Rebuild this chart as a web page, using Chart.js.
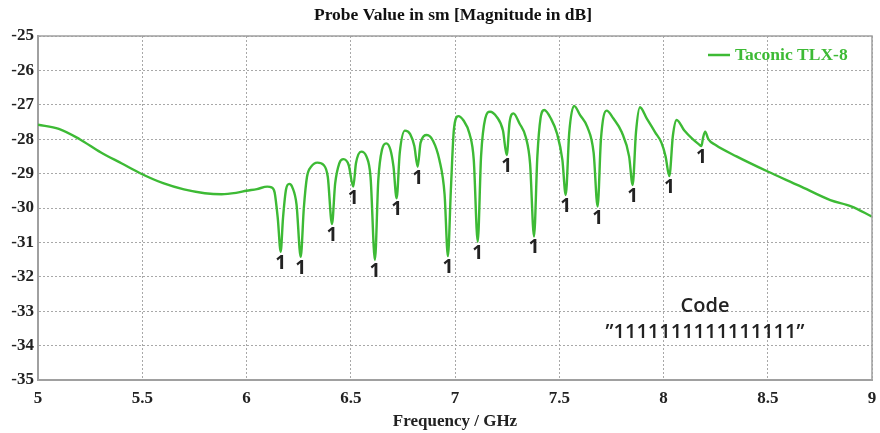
<!DOCTYPE html>
<html>
<head>
<meta charset="utf-8">
<script src="https://cdn.jsdelivr.net/npm/chart.js@4"></script>
<style>
  html, body { margin: 0; padding: 0; background: #fff; }
  #wrap { width: 880px; height: 433px; position: relative; }
</style>
</head>
<body>
<div id="wrap"><canvas id="probeChart"></canvas></div>
<script>
// frequency in GHz and probe magnitude in dB
const freqGHz = [
  5.00, 5.10, 5.20, 5.30, 5.40, 5.50, 5.60, 5.70, 5.80, 5.88, 5.95, 6.00, 6.05, 6.10,
  6.12, 6.135, 6.15, 6.164, 6.175, 6.19, 6.205, 6.22, 6.24, 6.26, 6.275, 6.29,
  6.31, 6.34, 6.37, 6.39, 6.41, 6.425, 6.445, 6.465, 6.49, 6.512, 6.525, 6.55,
  6.575, 6.595, 6.616, 6.632, 6.65, 6.67, 6.69, 6.705, 6.72, 6.735, 6.76, 6.785,
  6.805, 6.821, 6.835, 6.865, 6.895, 6.925, 6.95, 6.966, 6.98, 6.995, 7.016, 7.04,
  7.07, 7.09, 7.109, 7.125, 7.145, 7.168, 7.20, 7.23, 7.248, 7.262, 7.28, 7.31,
  7.34, 7.36, 7.379, 7.395, 7.41, 7.428, 7.46, 7.49, 7.515, 7.531, 7.548, 7.571,
  7.60, 7.635, 7.665, 7.684, 7.70, 7.727, 7.76, 7.80, 7.835, 7.852, 7.868, 7.887,
  7.92, 7.96, 7.99, 8.01, 8.028, 8.045, 8.063, 8.10, 8.14, 8.17, 8.182, 8.19,
  8.20, 8.215, 8.25, 8.35, 8.50, 8.65, 8.80, 8.90, 9.00
];
const magDB = [
  -27.58, -27.70, -28.00, -28.38, -28.70, -29.02, -29.28, -29.46, -29.57, -29.60, -29.56, -29.50, -29.45, -29.38,
  -29.40, -29.55, -30.30, -31.27, -30.30, -29.45, -29.30, -29.40, -29.90, -31.42, -30.00, -29.10,
  -28.80, -28.68, -28.75, -29.10, -30.47, -29.30, -28.70, -28.58, -28.75, -29.38, -28.70, -28.36,
  -28.50, -29.10, -31.51, -29.20, -28.30, -28.12, -28.30, -28.80, -29.72, -28.40, -27.75, -27.85,
  -28.20, -28.80, -28.10, -27.88, -28.05, -28.60, -29.60, -31.40, -29.50, -27.70, -27.33, -27.45,
  -27.85, -28.60, -30.98, -28.50, -27.40, -27.20, -27.35, -27.75, -28.46, -27.50, -27.25, -27.55,
  -27.95, -28.70, -30.83, -28.50, -27.40, -27.15, -27.40, -27.85, -28.60, -29.62, -27.80, -27.03,
  -27.30, -27.65, -28.40, -29.96, -28.00, -27.17, -27.40, -27.80, -28.50, -29.33, -27.80, -27.07,
  -27.40, -27.80, -28.10, -28.50, -29.07, -27.90, -27.44, -27.75, -28.00, -28.15, -28.20, -27.95,
  -27.78, -28.00, -28.17, -28.50, -28.94, -29.35, -29.77, -29.95, -30.25
];
// dips that carry a "1" bit label
const codeDips = [6.164, 6.26, 6.41, 6.512, 6.616, 6.72, 6.821, 6.966, 7.109, 7.248, 7.379, 7.531, 7.684, 7.852, 8.028, 8.182];
const seriesName = 'Taconic TLX-8';
const codeText = ['Code', '\u201d1111111111111111\u201d'];

const green = '#3dba35';
const serif = '"Liberation Serif", "DejaVu Serif", serif';

const decorPlugin = {
  id: 'decor',
  afterDraw(chart) {
    const { ctx, chartArea: a, scales: { x, y } } = chart;
    ctx.save();
    // frame
    ctx.strokeStyle = '#a0a0a0';
    ctx.lineWidth = 1.5;
    ctx.beginPath();
    ctx.moveTo(a.left, a.top);
    ctx.lineTo(a.right, a.top);
    ctx.lineTo(a.right, a.bottom);
    ctx.stroke();

    // title
    ctx.fillStyle = '#111';
    ctx.font = 'bold 17.5px ' + serif;
    ctx.textAlign = 'center';
    ctx.textBaseline = 'middle';
    ctx.fillText('Probe Value in sm [Magnitude in dB]', 453, 15);

    // legend inside plot
    ctx.strokeStyle = green;
    ctx.lineWidth = 2.5;
    ctx.beginPath();
    ctx.moveTo(708, 55);
    ctx.lineTo(730, 55);
    ctx.stroke();
    ctx.fillStyle = green;
    ctx.textAlign = 'left';
    ctx.font = 'bold 17.5px ' + serif;
    ctx.fillText(chart.data.datasets[0].label, 735, 55);

    // "1" labels under each dip
    ctx.fillStyle = '#222';
    ctx.textAlign = 'center';
    ctx.textBaseline = 'top';
    ctx.font = 'bold 19px "Open Sans", sans-serif';
    codeDips.forEach((f) => {
      const i = freqGHz.indexOf(f);
      const px = x.getPixelForValue(f);
      const py = y.getPixelForValue(magDB[i]);
      ctx.fillText('1', px, py + 2);
    });

    // code text
    ctx.textBaseline = 'middle';
    ctx.font = '600 20px "Open Sans", sans-serif';
    ctx.fillText(codeText[0], 705, 306);
    ctx.fillText(codeText[1], 705, 332);
    ctx.restore();
  },
};

new Chart(document.getElementById('probeChart'), {
  type: 'line',
  data: {
    datasets: [
      {
        label: seriesName,
        data: freqGHz.map((f, i) => ({ x: f, y: magDB[i] })),
        borderColor: green,
        borderWidth: 2.4,
        pointRadius: 0,
        cubicInterpolationMode: 'monotone',
        fill: false,
      },
    ],
  },
  options: {
    responsive: true,
    maintainAspectRatio: false,
    animation: false,
    layout: { padding: { top: 36, right: 0, left: 0, bottom: 0 } },
    plugins: {
      legend: { display: false },
      title: { display: false },
      tooltip: { enabled: false },
    },
    scales: {
      x: {
        type: 'linear',
        min: 5,
        max: 9,
        ticks: {
          stepSize: 0.5,
          color: '#222',
          padding: 8,
          font: { family: serif, size: 17, weight: 'bold' },
          callback: (v) => String(v),
        },
        grid: { color: '#a8a8a8', drawTicks: false, lineWidth: 1 },
        border: { color: '#a0a0a0', width: 2, dash: [2, 2] },
        title: {
          display: true,
          text: 'Frequency / GHz',
          color: '#222',
          font: { family: serif, size: 17, weight: 'bold' },
          padding: { top: 4, bottom: 1 },
        },
        afterFit: (s) => {
          s.height = 53;
          s.paddingRight = 8;
        },
      },
      y: {
        min: -35,
        max: -25,
        ticks: {
          stepSize: 1,
          color: '#222',
          padding: 4,
          font: { family: serif, size: 17, weight: 'bold' },
        },
        grid: { color: '#a8a8a8', drawTicks: false, lineWidth: 1 },
        border: { color: '#a0a0a0', width: 2, dash: [2, 2] },
        afterFit: (s) => { s.width = 38; },
      },
    },
  },
  plugins: [decorPlugin],
});
</script>
</body>
</html>
